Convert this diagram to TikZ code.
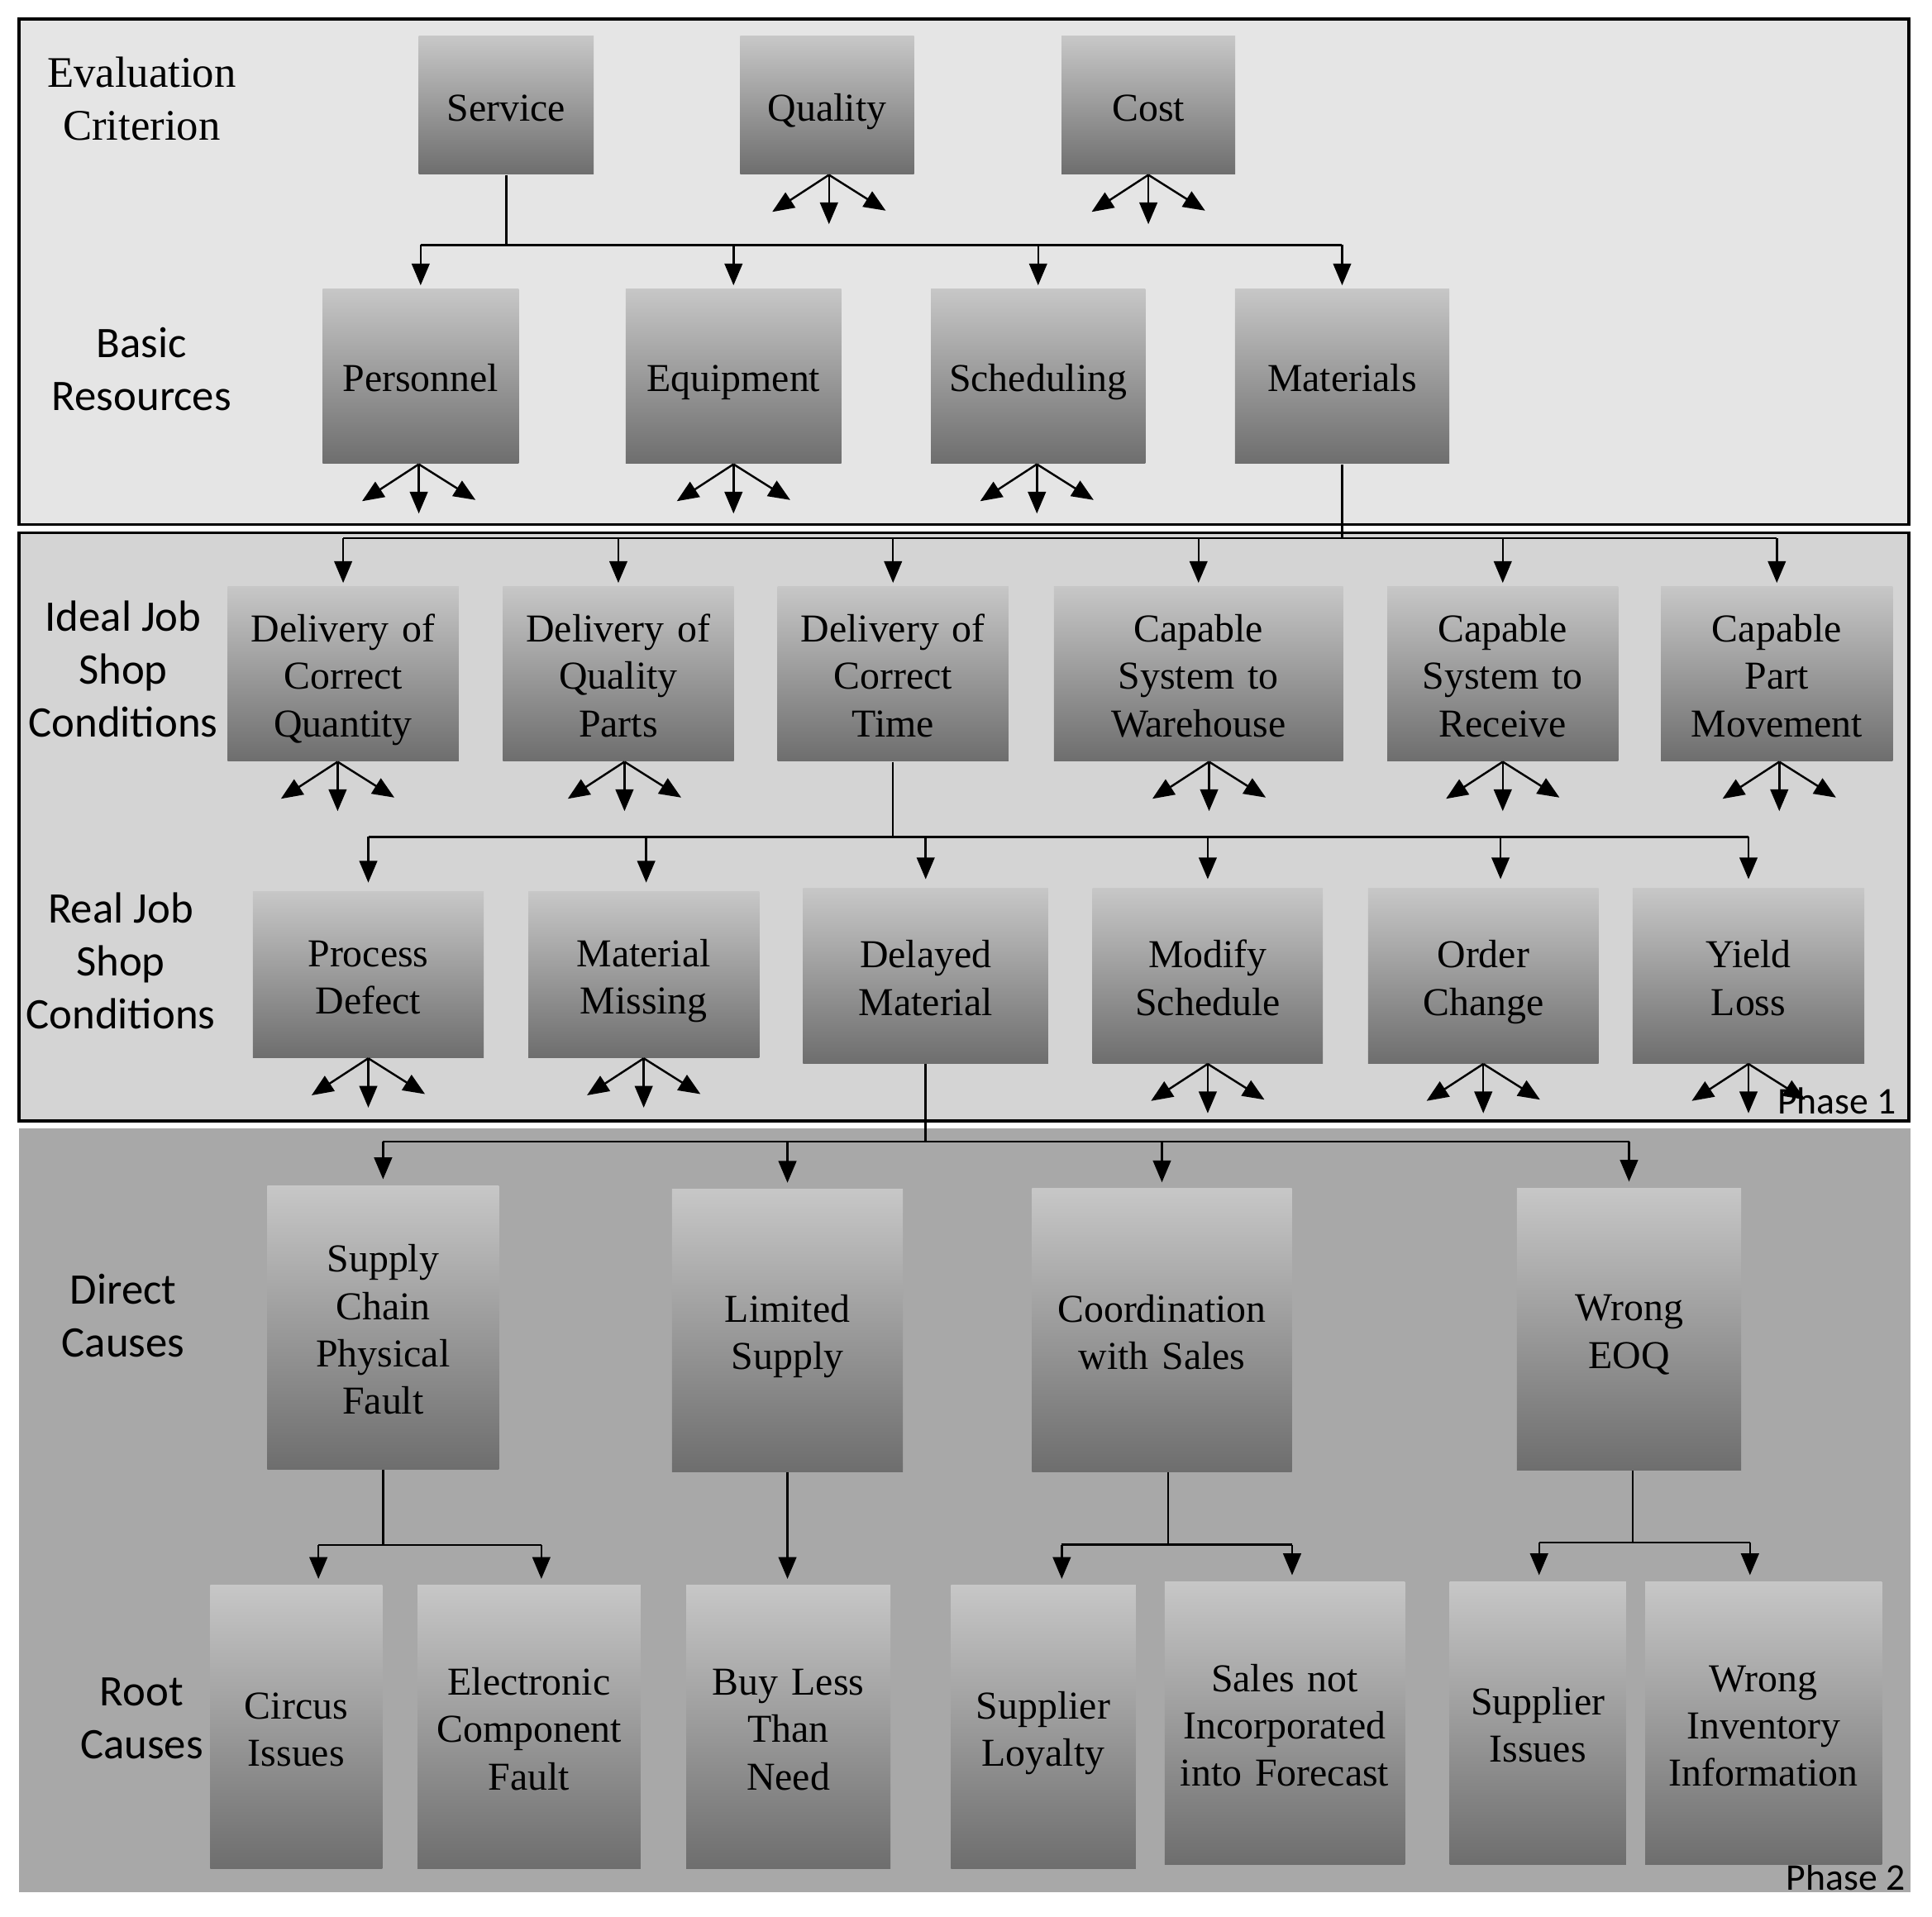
\documentclass[tikz,border=0pt]{standalone}
\usepackage{fontspec}
\setmainfont{Liberation Serif}
\newfontfamily\calibri{Carlito}
\usepackage{tikz}
\usetikzlibrary{shapes, calc, arrows}
\newcommand\fan[2][0]{
  \draw[conn,->] ($(#2.south)+(#1,0)$) -- ++(-46,30);
  \draw[conn,->] ($(#2.south)+(#1,0)$) -- ++(0,40);
  \draw[conn,->] ($(#2.south)+(#1,0)$) -- ++(46,29);
}

\begin{document}
\begin{tikzpicture}[x=0.0149cm, y=-0.0149cm, >=triangle 45,
  box/.style={top color=black!22, bottom color=black!57, align=center, inner sep=0pt,
    font=\fontsize{13.6}{16.3}\selectfont,
    execute at begin node=\rule{0pt}{15.6pt}, execute at end node=\strut},
  sz/.style 2 args={minimum width=#1*0.0149cm, text width=#1*0.0149cm, minimum height=#2*0.0149cm},
  lbl/.style={align=center, font=\calibri\fontsize{15}{18.2}\selectfont},
  conn/.style={line width=0.7pt},
  panel/.style={draw=black, line width=1pt}]

\useasboundingbox (0,0) rectangle (1568.5,1556.4);

% phases
\draw[panel, fill=black!10] (15.4,15.3) rectangle (1549.7,425.7);
\draw[panel, fill=black!17] (15.4,432.7) rectangle (1549.7,910);
\fill[black!34] (15.4,916) rectangle (1551,1536);

\node[lbl, font=\fontsize{15}{18.2}\selectfont] (ec) at (115,80) {Evaluation\\Criterion};
\node[lbl] (br) at (115,300) {Basic\\Resources};
\node[lbl] (ij) at (100,543) {Ideal Job\\Shop\\Conditions};
\node[lbl] (rj) at (98,780) {Real Job\\Shop\\Conditions};
\node[lbl] (dc) at (100,1068) {Direct\\Causes};
\node[lbl] (rc) at (115,1395) {Root\\Causes};
\node[anchor=east, inner sep=0pt, font=\calibri\fontsize{13}{15}\selectfont] (ph1) at (1540,894) {Phase 1};
\node[anchor=east, inner sep=0pt, font=\calibri\fontsize{13}{15}\selectfont] (ph2) at (1547,1524) {Phase 2};

% evaluation criterion
\node[box, sz={142}{112}] (svc) at (411,85.5) {Service};
\node[box, sz={141}{112}] (qual) at (671.5,85.5) {Quality};
\node[box, sz={141}{112}] (cost) at (932.3,85.5) {Cost};

% basic resources
\node[box, sz={159}{142}] (pers) at (341.5,305.4) {Personnel};
\node[box, sz={175}{142}] (equip) at (595.5,305.4) {Equipment};
\node[box, sz={174}{142}] (sched) at (842.8,305.4) {Scheduling};
\node[box, sz={174}{142}] (mat) at (1089.6,305.4) {Materials};

% ideal job shop
\node[box, sz={187.5}{142}] (dcq) at (278.6,547) {Delivery of\\Correct\\Quantity};
\node[box, sz={187.5}{142}] (dqp) at (502,547) {Delivery of\\Quality\\Parts};
\node[box, sz={187.5}{142}] (dct) at (725,547) {Delivery of\\Correct\\Time};
\node[box, sz={234.7}{142}] (csw) at (973,547) {Capable\\System to\\Warehouse};
\node[box, sz={187.5}{142}] (csr) at (1220,547) {Capable\\System to\\Receive};
\node[box, sz={188}{142}] (cpm) at (1442.5,547) {Capable\\Part\\Movement};

% real job shop
\node[box, sz={187.4}{134.7}] (pd) at (299,791.4) {Process\\Defect};
\node[box, sz={187.4}{134.7}] (mm) at (522.6,791.4) {Material\\Missing};
\node[box, sz={199}{142}] (dm) at (751.5,792.3) {Delayed\\Material};
\node[box, sz={187}{142}] (ms) at (980.5,792.3) {Modify\\Schedule};
\node[box, sz={187}{142}] (oc) at (1204.2,792.3) {Order\\Change};
\node[box, sz={188}{142}] (yl) at (1419.5,792.3) {Yield\\Loss};

% direct causes
\node[box, sz={188}{230.5}] (scp) at (311,1077.8) {Supply\\Chain\\Physical\\Fault};
\node[box, sz={187.5}{229.6}] (ls) at (639.3,1080.2) {Limited\\Supply};
\node[box, sz={211}{230}] (cws) at (943.3,1080) {Coordination\\with Sales};
\node[box, sz={182}{229}] (eoq) at (1322.5,1079) {Wrong\\EOQ};

% root causes
\node[box, sz={139.7}{230}] (ci) at (240.5,1402) {Circus\\Issues};
\node[box, sz={181}{230}] (ecf) at (429.5,1402) {Electronic\\Component\\Fault};
\node[box, sz={165.7}{230}] (bl) at (640,1402) {Buy Less\\Than\\Need};
\node[box, sz={150}{230}] (sl) at (847,1402) {Supplier\\Loyalty};
\node[box, sz={195}{230}] (sni) at (1043,1399) {Sales not\\Incorporated\\into Forecast};
\node[box, sz={143}{230}] (si) at (1248.5,1399) {Supplier\\Issues};
\node[box, sz={192}{230}] (wii) at (1431.7,1399) {Wrong\\Inventory\\Information};

% service to resources
\draw[conn] (svc.south) -- ($(svc.south)+(0,57)$) coordinate (j1);
\draw[conn] (j1 -| pers.north) -- (j1 -| mat.north);
\foreach \n in {pers,equip,sched,mat}
  \draw[conn,->,shorten >=1pt] (j1 -| \n.north) -- (\n.north);

% materials to ideal job shop
\draw[conn] (mat.south) -- ($(mat.south)+(0,60)$) coordinate (j2);
\draw[conn] (j2 -| dcq.north) -- (j2 -| cpm.north);
\foreach \n in {dcq,dqp,dct,csw,csr,cpm}
  \draw[conn,->,shorten >=1pt] (j2 -| \n.north) -- (\n.north);

% correct time to real job shop
\draw[conn] (dct.south) -- ($(dct.south)+(0,61)$) coordinate (j3);
\draw[conn] (j3 -| pd.north) -- (j3 -| yl.north);
\foreach \n/\d in {pd/0,mm/2,dm/0,ms/0,oc/14,yl/0}
  \draw[conn,->,shorten >=3pt] ($(j3 -| \n.north)+(\d,0)$) -- ($(\n.north)+(\d,0)$);

% delayed material to direct causes
\draw[conn] (dm.south) -- ($(dm.south)+(0,63)$) coordinate (j4);
\draw[conn] (j4 -| scp.north) -- (j4 -| eoq.north);
\foreach \n in {scp,ls,cws,eoq}
  \draw[conn,->,shorten >=2pt] (j4 -| \n.north) -- (\n.north);

% direct to root causes
\draw[conn] (scp.south) -- ($(scp.south)+(0,61)$) coordinate (j5);
\draw[conn] ($(j5 -| ci.north)+(18,0)$) -- ($(j5 -| ecf.north)+(10,0)$);
\draw[conn,->,shorten >=2pt] ($(j5 -| ci.north)+(18,0)$) -- ($(ci.north)+(18,0)$);
\draw[conn,->,shorten >=2pt] ($(j5 -| ecf.north)+(10,0)$) -- ($(ecf.north)+(10,0)$);

\draw[conn,->,shorten >=2pt] (ls.south) -- (ls.south |- bl.north);

\draw[conn] ($(cws.south)+(5,0)$) -- ++(0,58.7) coordinate (j6);
\draw[conn] ($(j6 -| sl.north)+(15,0)$) -- ($(j6 -| sni.north)+(6,0)$);
\draw[conn,->,shorten >=2pt] ($(j6 -| sl.north)+(15,0)$) -- ($(sl.north)+(15,0)$);
\draw[conn,->,shorten >=2pt] ($(j6 -| sni.north)+(6,0)$) -- ($(sni.north)+(6,0)$);

\draw[conn] ($(eoq.south)+(3,0)$) -- ++(0,58.5) coordinate (j7);
\draw[conn] ($(j7 -| si.north)+(1,0)$) -- ($(j7 -| wii.north)+(-11,0)$);
\draw[conn,->,shorten >=2pt] ($(j7 -| si.north)+(1,0)$) -- ($(si.north)+(1,0)$);
\draw[conn,->,shorten >=2pt] ($(j7 -| wii.north)+(-11,0)$) -- ($(wii.north)+(-11,0)$);

% open branches
\fan[1.5]{qual} \fan{cost}
\fan[-1.5]{pers} \fan{equip} \fan[-1]{sched}
\fan[-4.5]{dcq} \fan[5]{dqp} \fan[8.6]{csw} \fan{csr} \fan[2]{cpm}
\fan{pd} \fan{mm} \fan{ms} \fan{oc} \fan{yl}

\end{tikzpicture}
\end{document}
